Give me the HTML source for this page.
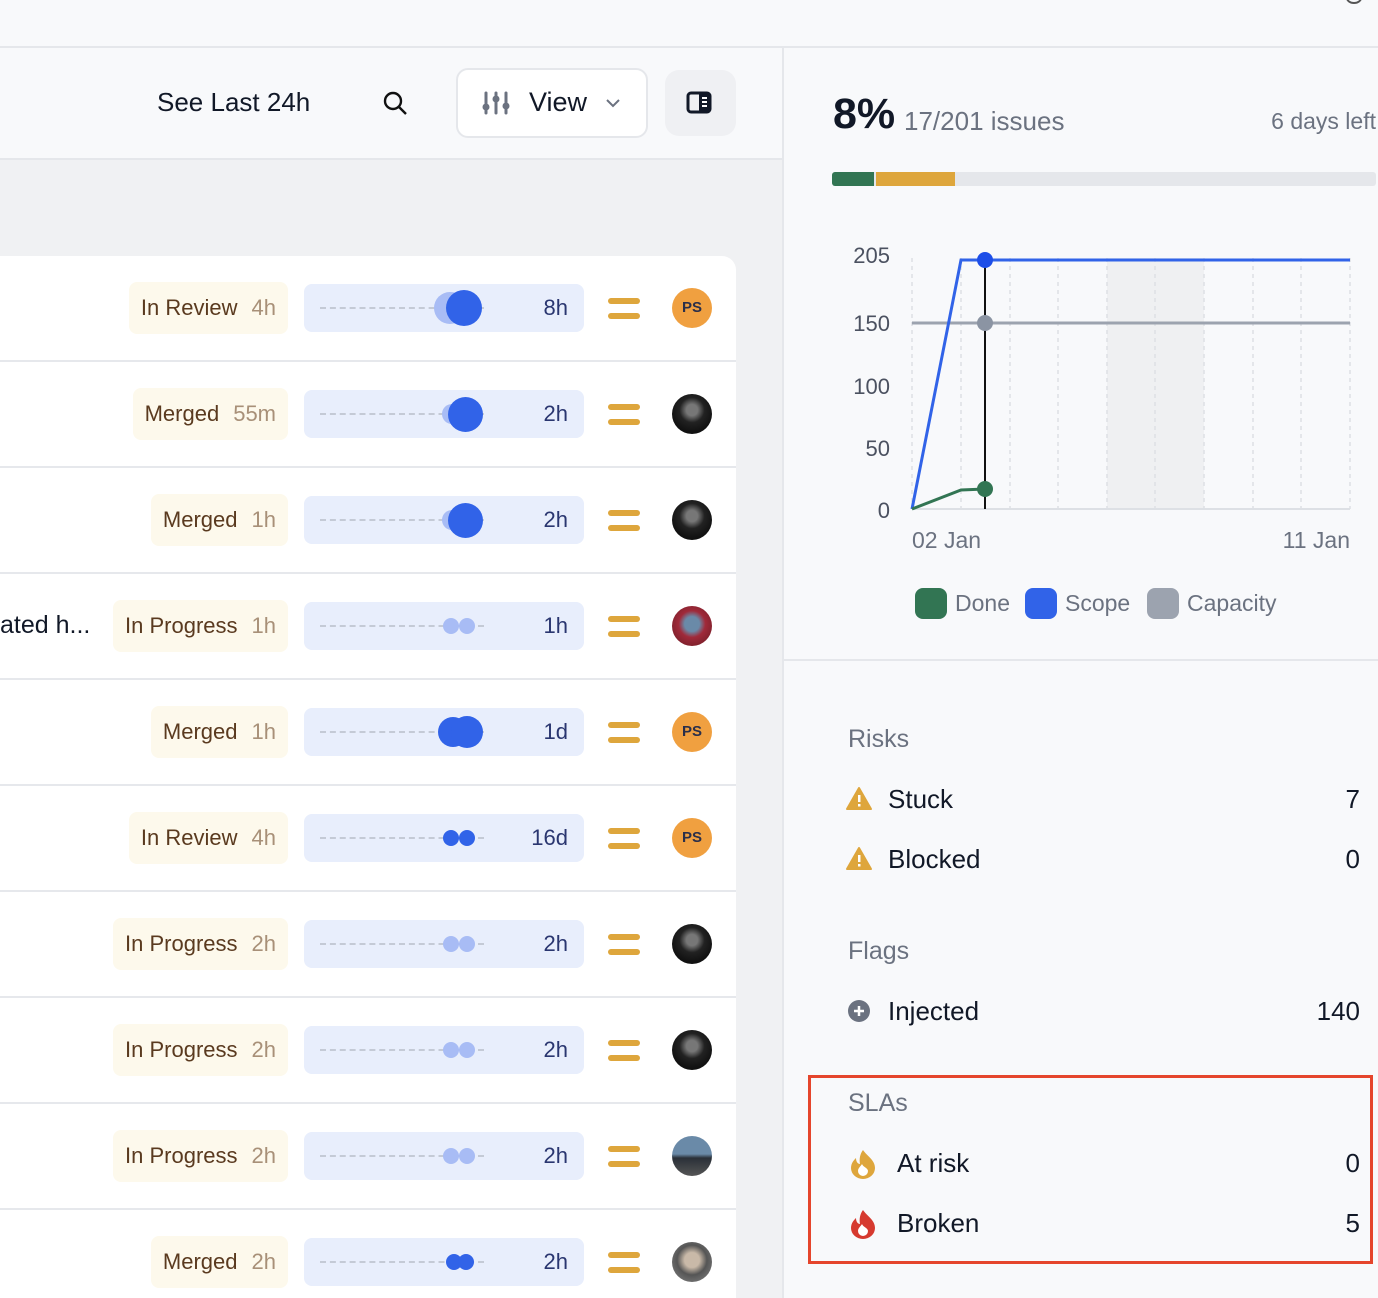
<!DOCTYPE html>
<html><head><meta charset="utf-8"><style>
*{margin:0;padding:0;box-sizing:border-box}
body{width:1378px;height:1298px;position:relative;overflow:hidden;background:#f8f9fb;font-family:"Liberation Sans",sans-serif}
.a{position:absolute}
.pill{position:absolute;height:52px;background:#fdf9ec;border-radius:8px;font-size:22px;color:#5a3a1f;line-height:52px;padding:0 12px;right:1090px;white-space:nowrap}
.pill span{color:#a89078;margin-left:14px}
.bar{position:absolute;left:304px;width:280px;height:48px;background:#e8eefc;border-radius:8px}
.bar .d{position:absolute;left:16px;width:164px;top:23px;border-top:2px dashed #c4cad6}
.bar .v{position:absolute;right:16px;top:0;line-height:48px;font-size:22px;color:#2a3670}
.dot{position:absolute;border-radius:50%}
.eq{position:absolute;left:608px;width:32px;height:6px;background:#dea63c;border-radius:3px}
.av{position:absolute;left:672px;width:40px;height:40px;border-radius:50%}
.ps{background:#f0a040;color:#2a2f4a;font-size:15px;font-weight:bold;text-align:center;line-height:40px}
.ph{background:radial-gradient(circle at 50% 40%,#777 0 18%,#222 40%,#111 70%)}
.sep{position:absolute;left:0;width:736px;height:2px;background:#e6e8ec}
.rl{position:absolute;left:888px;font-size:26px;color:#111827}
.rv{position:absolute;right:18px;font-size:26px;color:#111827}
.sh{position:absolute;left:848px;font-size:25px;color:#6b7280}
</style></head><body>
<div class="a" style="left:0;top:46px;width:1378px;height:2px;background:#e5e7eb"></div>
<div class="a" style="left:1346px;top:-8px;width:16px;height:12px;border:2px solid #555;border-radius:50%"></div>
<div class="a" style="left:0;top:48px;width:782px;height:111px;background:#f8f9fb"></div>
<div class="a" style="left:157px;top:87px;font-size:26px;color:#111827">See Last 24h</div>
<svg class="a" style="left:382px;top:90px" width="28" height="28"><circle cx="11" cy="11" r="8" fill="none" stroke="#111" stroke-width="2.4"/><line x1="17" y1="17" x2="24" y2="24" stroke="#111" stroke-width="2.4"/></svg>
<div class="a" style="left:456px;top:68px;width:192px;height:70px;background:#fff;border:2px solid #e5e7eb;border-radius:12px"></div>
<svg class="a" style="left:482px;top:90px" width="30" height="26"><g stroke="#6b7280" stroke-width="3" stroke-linecap="round"><line x1="4" y1="3" x2="4" y2="23"/><line x1="14" y1="3" x2="14" y2="23"/><line x1="24" y1="3" x2="24" y2="23"/></g><circle cx="4" cy="17" r="3.5" fill="#6b7280"/><circle cx="14" cy="9" r="3.5" fill="#6b7280"/><circle cx="24" cy="16" r="3.5" fill="#6b7280"/></svg>
<div class="a" style="left:529px;top:87px;font-size:27px;color:#111827">View</div>
<svg class="a" style="left:604px;top:96px" width="18" height="14"><path d="M3 4l6 6 6-6" fill="none" stroke="#6b7280" stroke-width="2"/></svg>
<div class="a" style="left:665px;top:70px;width:71px;height:66px;background:#eff0f3;border-radius:14px"></div>
<svg class="a" style="left:686px;top:91px" width="28" height="24"><rect x="2" y="2" width="22" height="19" rx="3" fill="none" stroke="#111827" stroke-width="3"/><rect x="13" y="2" width="11" height="19" fill="#111827"/><g fill="#fff"><rect x="16" y="6" width="5" height="2"/><rect x="16" y="10" width="5" height="2"/><rect x="16" y="14" width="5" height="2"/></g></svg>
<div class="a" style="left:0;top:158px;width:782px;height:2px;background:#e5e7eb"></div>
<div class="a" style="left:0;top:160px;width:782px;height:1138px;background:#f0f1f3"></div>
<div class="a" style="left:0;top:256px;width:736px;height:1042px;background:#fff;border-top-right-radius:14px"></div>
<div class="a" style="left:782px;top:48px;width:2px;height:1250px;background:#e5e7eb"></div>

<div class="sep" style="top:360px"></div><div class="sep" style="top:466px"></div><div class="sep" style="top:572px"></div><div class="sep" style="top:678px"></div><div class="sep" style="top:784px"></div><div class="sep" style="top:890px"></div><div class="sep" style="top:996px"></div><div class="sep" style="top:1102px"></div><div class="sep" style="top:1208px"></div>

<div class="pill" style="top:282px">In Review<span>4h</span></div>
<div class="bar" style="top:284px"><div class="d"></div><div class="dot" style="left:130px;top:8px;width:32px;height:32px;background:#a8bcf5"></div><div class="dot" style="left:142px;top:6px;width:36px;height:36px;background:#3163e8"></div><div class="v">8h</div></div>
<div class="eq" style="top:298px"></div><div class="eq" style="top:313px"></div><div class="av ps" style="top:288px">PS</div>

<div class="pill" style="top:388px">Merged<span>55m</span></div>
<div class="bar" style="top:390px"><div class="d"></div><div class="dot" style="left:138px;top:14px;width:20px;height:20px;background:#a8bcf5"></div><div class="dot" style="left:144px;top:7px;width:35px;height:35px;background:#3163e8"></div><div class="v">2h</div></div>
<div class="eq" style="top:404px"></div><div class="eq" style="top:419px"></div><div class="av ph" style="top:394px"></div>

<div class="pill" style="top:494px">Merged<span>1h</span></div>
<div class="bar" style="top:496px"><div class="d"></div><div class="dot" style="left:138px;top:14px;width:20px;height:20px;background:#a8bcf5"></div><div class="dot" style="left:144px;top:7px;width:35px;height:35px;background:#3163e8"></div><div class="v">2h</div></div>
<div class="eq" style="top:510px"></div><div class="eq" style="top:525px"></div><div class="av ph" style="top:500px"></div>

<div class="a" style="left:0;top:611px;font-size:25px;color:#111827">ated h...</div>
<div class="pill" style="top:600px">In Progress<span>1h</span></div>
<div class="bar" style="top:602px"><div class="d"></div><div class="dot" style="left:139px;top:16px;width:16px;height:16px;background:#a8bcf5"></div><div class="dot" style="left:155px;top:16px;width:16px;height:16px;background:#a8bcf5"></div><div class="v">1h</div></div>
<div class="eq" style="top:616px"></div><div class="eq" style="top:631px"></div><div class="av" style="top:606px;background:radial-gradient(circle at 50% 45%,#6a8aa8 0 25%,#a02a3a 45%,#7a1f2a 80%)"></div>

<div class="pill" style="top:706px">Merged<span>1h</span></div>
<div class="bar" style="top:708px"><div class="d"></div><div class="dot" style="left:134px;top:9px;width:30px;height:30px;background:#3163e8"></div><div class="dot" style="left:147px;top:8px;width:32px;height:32px;background:#3163e8"></div><div class="v">1d</div></div>
<div class="eq" style="top:722px"></div><div class="eq" style="top:737px"></div><div class="av ps" style="top:712px">PS</div>

<div class="pill" style="top:812px">In Review<span>4h</span></div>
<div class="bar" style="top:814px"><div class="d"></div><div class="dot" style="left:139px;top:16px;width:16px;height:16px;background:#3163e8"></div><div class="dot" style="left:155px;top:16px;width:16px;height:16px;background:#3163e8"></div><div class="v">16d</div></div>
<div class="eq" style="top:828px"></div><div class="eq" style="top:843px"></div><div class="av ps" style="top:818px">PS</div>

<div class="pill" style="top:918px">In Progress<span>2h</span></div>
<div class="bar" style="top:920px"><div class="d"></div><div class="dot" style="left:139px;top:16px;width:16px;height:16px;background:#a8bcf5"></div><div class="dot" style="left:155px;top:16px;width:16px;height:16px;background:#a8bcf5"></div><div class="v">2h</div></div>
<div class="eq" style="top:934px"></div><div class="eq" style="top:949px"></div><div class="av ph" style="top:924px"></div>

<div class="pill" style="top:1024px">In Progress<span>2h</span></div>
<div class="bar" style="top:1026px"><div class="d"></div><div class="dot" style="left:139px;top:16px;width:16px;height:16px;background:#a8bcf5"></div><div class="dot" style="left:155px;top:16px;width:16px;height:16px;background:#a8bcf5"></div><div class="v">2h</div></div>
<div class="eq" style="top:1040px"></div><div class="eq" style="top:1055px"></div><div class="av ph" style="top:1030px"></div>

<div class="pill" style="top:1130px">In Progress<span>2h</span></div>
<div class="bar" style="top:1132px"><div class="d"></div><div class="dot" style="left:139px;top:16px;width:16px;height:16px;background:#a8bcf5"></div><div class="dot" style="left:155px;top:16px;width:16px;height:16px;background:#a8bcf5"></div><div class="v">2h</div></div>
<div class="eq" style="top:1146px"></div><div class="eq" style="top:1161px"></div><div class="av" style="top:1136px;background:linear-gradient(#6a8aa8 0 45%,#2a3038 55%,#555 100%)"></div>

<div class="pill" style="top:1236px">Merged<span>2h</span></div>
<div class="bar" style="top:1238px"><div class="d"></div><div class="dot" style="left:142px;top:16px;width:16px;height:16px;background:#3163e8"></div><div class="dot" style="left:154px;top:16px;width:16px;height:16px;background:#3163e8"></div><div class="v">2h</div></div>
<div class="eq" style="top:1252px"></div><div class="eq" style="top:1267px"></div><div class="av" style="top:1242px;background:radial-gradient(circle at 50% 45%,#c9b9a8 0 25%,#555 50%,#888 100%)"></div>

<div class="a" style="left:833px;top:90px;font-size:43px;font-weight:bold;color:#111827">8%</div>
<div class="a" style="left:904px;top:106px;font-size:26px;color:#6b7280">17/201 issues</div>
<div class="a" style="right:2px;top:108px;font-size:23px;color:#6b7280">6 days left</div>
<div class="a" style="left:832px;top:172px;width:544px;height:14px;background:#e5e7eb;border-radius:3px;overflow:hidden"><div class="a" style="left:0;top:0;width:42px;height:14px;background:#327553"></div><div class="a" style="left:44px;top:0;width:79px;height:14px;background:#dea63c"></div></div>

<svg class="a" style="left:784px;top:230px" width="594" height="400">
<g transform="translate(-784,-230)">
<rect x="1107" y="258" width="97" height="251" fill="#eff0f2"/>
<g stroke="#dde0e5" stroke-width="1.5" stroke-dasharray="4,4">
<line x1="912" y1="258" x2="912" y2="509"/><line x1="961" y1="258" x2="961" y2="509"/><line x1="1010" y1="258" x2="1010" y2="509"/><line x1="1058" y1="258" x2="1058" y2="509"/><line x1="1107" y1="258" x2="1107" y2="509"/><line x1="1155" y1="258" x2="1155" y2="509"/><line x1="1204" y1="258" x2="1204" y2="509"/><line x1="1253" y1="258" x2="1253" y2="509"/><line x1="1301" y1="258" x2="1301" y2="509"/><line x1="1350" y1="258" x2="1350" y2="509"/>
</g>
<line x1="912" y1="509" x2="1350" y2="509" stroke="#dde0e5" stroke-width="2"/>
<line x1="912" y1="323" x2="1350" y2="323" stroke="#9ca3af" stroke-width="3"/>
<polyline points="912,509 961,260 1350,260" fill="none" stroke="#3163e8" stroke-width="3"/>
<polyline points="912,509 961,490 985,489" fill="none" stroke="#327553" stroke-width="3"/>
<line x1="985" y1="258" x2="985" y2="509" stroke="#111" stroke-width="2"/>
<circle cx="985" cy="260" r="8" fill="#1d4ee8"/><circle cx="985" cy="323" r="8" fill="#8b94a3"/><circle cx="985" cy="489" r="8" fill="#327553"/>
<g font-family="Liberation Sans, sans-serif" font-size="22" fill="#4b5160" text-anchor="end">
<text x="890" y="263">205</text><text x="890" y="331">150</text><text x="890" y="394">100</text><text x="890" y="456">50</text><text x="890" y="518">0</text>
</g>
<g font-family="Liberation Sans, sans-serif" font-size="23" fill="#6b7280">
<text x="912" y="548">02 Jan</text><text x="1350" y="548" text-anchor="end">11 Jan</text>
<rect x="915" y="588" width="32" height="31" rx="8" fill="#327553"/><text x="955" y="611">Done</text>
<rect x="1025" y="588" width="32" height="31" rx="8" fill="#3163e8"/><text x="1065" y="611">Scope</text>
<rect x="1147" y="588" width="32" height="31" rx="8" fill="#9ca3af"/><text x="1187" y="611">Capacity</text>
</g></g></svg>

<div class="a" style="left:784px;top:659px;width:594px;height:2px;background:#e5e7eb"></div>

<div class="sh" style="top:725px">Risks</div>
<svg class="a" style="left:846px;top:786px" width="28" height="26"><path d="M13 2L25 23H1Z" fill="#dea63c" stroke="#dea63c" stroke-width="2" stroke-linejoin="round"/><rect x="12" y="9" width="2.5" height="7" fill="#fff"/><rect x="12" y="18" width="2.5" height="2.5" fill="#fff"/></svg>
<div class="rl" style="top:784px">Stuck</div><div class="rv" style="top:784px">7</div>
<svg class="a" style="left:846px;top:846px" width="28" height="26"><path d="M13 2L25 23H1Z" fill="#dea63c" stroke="#dea63c" stroke-width="2" stroke-linejoin="round"/><rect x="12" y="9" width="2.5" height="7" fill="#fff"/><rect x="12" y="18" width="2.5" height="2.5" fill="#fff"/></svg>
<div class="rl" style="top:844px">Blocked</div><div class="rv" style="top:844px">0</div>

<div class="sh" style="top:937px">Flags</div>
<svg class="a" style="left:847px;top:999px" width="26" height="26"><circle cx="12" cy="12" r="11" fill="#6b7280"/><path d="M12 7v10M7 12h10" stroke="#fff" stroke-width="2.5"/></svg>
<div class="rl" style="top:996px">Injected</div><div class="rv" style="top:996px">140</div>

<div class="a" style="left:808px;top:1075px;width:565px;height:189px;border:3px solid #e5452c"></div>
<div class="sh" style="top:1089px">SLAs</div>
<svg class="a" style="left:849px;top:1148px" width="30" height="32"><path d="M14 2C18 8 26 12 26 20a12 11 0 0 1-24 0c0-5 3-8 5-10 0 4 2 6 4 6C10 11 11 6 14 2Z" fill="#dea63c"/><path d="M14 28a5 5 0 0 1-5-5c0-3 3-5 4-7 1 3 6 4 6 7a5 5 0 0 1-5 5Z" fill="#fff"/></svg>
<div class="rl" style="left:897px;top:1148px">At risk</div><div class="rv" style="top:1148px">0</div>
<svg class="a" style="left:849px;top:1208px" width="30" height="32"><path d="M14 2C18 8 26 12 26 20a12 11 0 0 1-24 0c0-5 3-8 5-10 0 4 2 6 4 6C10 11 11 6 14 2Z" fill="#d63a2f"/><path d="M14 28a5 5 0 0 1-5-5c0-3 3-5 4-7 1 3 6 4 6 7a5 5 0 0 1-5 5Z" fill="#fff"/></svg>
<div class="rl" style="left:897px;top:1208px">Broken</div><div class="rv" style="top:1208px">5</div>
</body></html>
